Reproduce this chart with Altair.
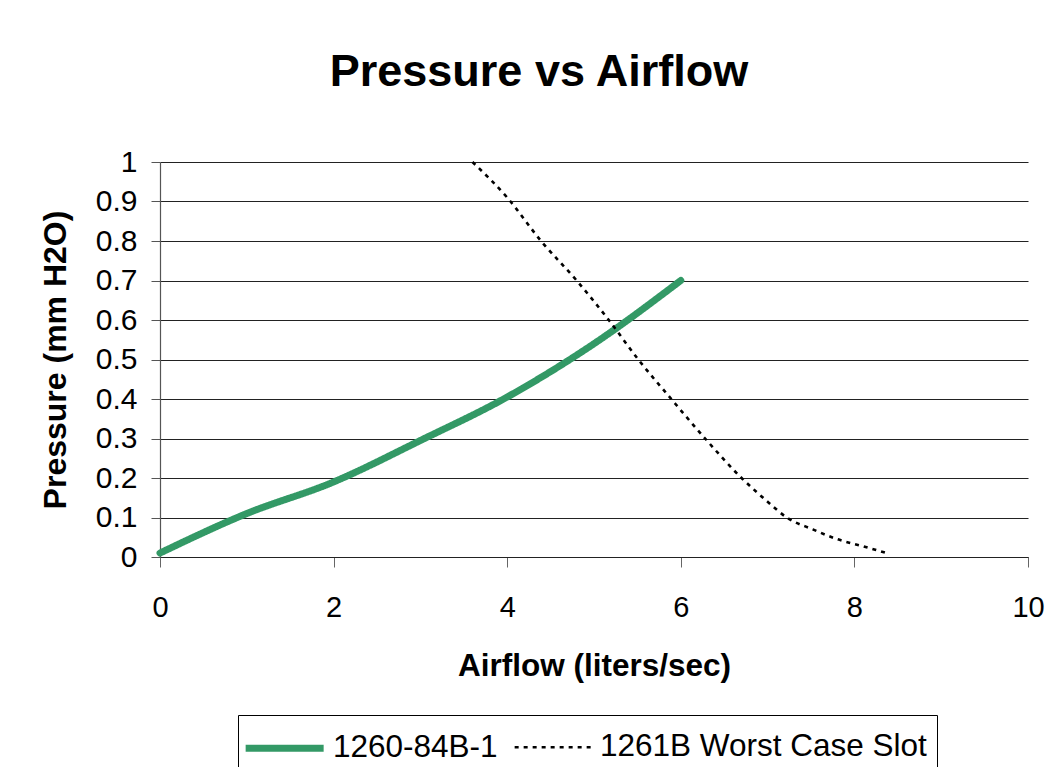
import altair as alt
import pandas as pd

series_names = ["1260-84B-1", "1261B Worst Case Slot"]

flow_a = [0, 1, 2, 3, 4, 5, 6]
press_a = [0.01, 0.11, 0.19, 0.295, 0.405, 0.54, 0.70]

flow_b = [3.6, 4.0, 4.39, 4.80, 5.17, 5.51, 5.89, 6.28, 6.70, 7.0, 7.22, 7.52, 7.79, 8.1, 8.37]
press_b = [1.0, 0.91, 0.80, 0.70, 0.60, 0.50, 0.40, 0.30, 0.20, 0.14, 0.10, 0.07, 0.046, 0.027, 0.01]

x_ticks = [0, 2, 4, 6, 8, 10]
y_ticks = [0, 0.1, 0.2, 0.3, 0.4, 0.5, 0.6, 0.7, 0.8, 0.9, 1.0]

df_a = pd.DataFrame({"flow": flow_a, "pressure": press_a, "series": series_names[0]})
df_b = pd.DataFrame({"flow": flow_b, "pressure": press_b, "series": series_names[1]})

FONT = "Liberation Sans"

x_enc = alt.X(
    "flow:Q",
    scale=alt.Scale(domain=[0, 10], nice=False),
    axis=alt.Axis(
        values=x_ticks, format="d", title="Airflow (liters/sec)", grid=False,
        tickSize=10, labelPadding=26, labelFontSize=29, labelFont=FONT, labelColor="black",
        labelFlush=False,
        titleFontSize=31.5, titleFont=FONT, titleFontWeight="bold", titleColor="black",
        titlePadding=28, domainColor="#222", tickColor="#666", domainWidth=1.2,
    ),
)
y_enc = alt.Y(
    "pressure:Q",
    scale=alt.Scale(domain=[0, 1], nice=False),
    axis=alt.Axis(
        values=y_ticks, format="~g", title="Pressure (mm H2O)", grid=True,
        gridColor="#222", gridWidth=1.1, tickSize=9, labelPadding=14,
        labelFontSize=30, labelFont=FONT, labelColor="black", labelFlush=False,
        titleFontSize=32, titleFont=FONT, titleFontWeight="bold", titleColor="black",
        titlePadding=23, domainColor="#555", tickColor="#555", domainWidth=1.2,
    ),
)

color_enc = alt.Color(
    "series:N",
    scale=alt.Scale(domain=series_names, range=["#339966", "#000000"]),
    legend=alt.Legend(
        orient="none", legendX=78, legendY=553, direction="horizontal", title=None,
        symbolType="M-1.3,0H2.7", symbolSize=1521, labelFontSize=31.5, labelFont=FONT,
        labelColor="black", strokeColor="black", fillColor="white", padding=10,
        columnPadding=11, labelOffset=39, labelLimit=600,
    ),
)
dash_enc = alt.StrokeDash(
    "series:N",
    scale=alt.Scale(domain=series_names, range=[[1, 0], [4, 5]]),
)
width_enc = alt.StrokeWidth(
    "series:N",
    scale=alt.Scale(domain=series_names, range=[7, 2.6]),
)

line_a = alt.Chart(df_a).mark_line(interpolate="monotone", strokeCap="round").encode(
    x=x_enc, y=y_enc, color=color_enc, strokeDash=dash_enc, strokeWidth=width_enc
)
line_b = alt.Chart(df_b).mark_line(interpolate="monotone", strokeCap="butt").encode(
    x=x_enc, y=y_enc, color=color_enc, strokeDash=dash_enc, strokeWidth=width_enc
)

chart = (
    alt.layer(line_a, line_b)
    .properties(
        width=868,
        height=395,
        autosize="none",
        padding={"left": 152, "top": 154, "right": 20, "bottom": 210},
        title=alt.TitleParams(
            "Pressure vs Airflow", fontSize=45, font=FONT, fontWeight="bold",
            color="black", anchor="middle", dx=-55, offset=52,
        ),
        background="white",
    )
    .configure_view(stroke=None)
)

chart.save("out.html", embed_options={"renderer": "svg", "actions": False})
